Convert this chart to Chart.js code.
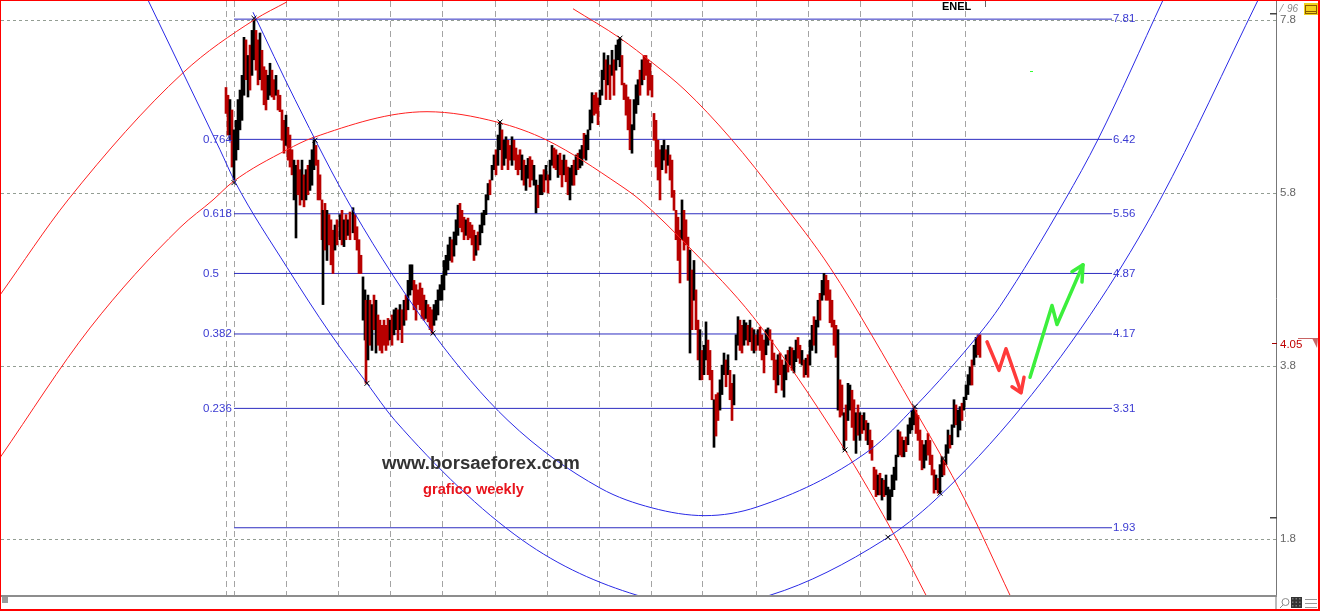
<!DOCTYPE html>
<html><head><meta charset="utf-8">
<script src="https://cdn.jsdelivr.net/npm/chart.js@4.4.1/dist/chart.umd.min.js"></script>
<style>html,body{margin:0;padding:0;background:#fff;overflow:hidden}#wrap{width:1320px;height:611px;position:relative}canvas{display:block}</style>
</head><body><div id="wrap"><canvas id="c" width="1320" height="611"></canvas></div>
<script>
// ---- weekly bars: week index, high, low, direction (1 = up/black, 0 = down/red)
const barWeeks = [
0,2,4,6,8,10,12,14,16,18,
20,22,24,26,28,30,32,34,36,38,
40,42,44,46,48,50,52,54,56,58,
60,62,64,66,68,70,72,74,76,78,
80,82,84,86,88,90,92,94,96,97,
99,101,103,105,107,109,111,114,116,118,
120,122,124,127,129,131,133,135,137,139,
140,142,144,146,148,150,152,154,156,158,
160,162,164,166,168,170,172,174,176,178,
180,182,184,186,188,190,192,194,196,198,
200,202,204,206,208,210,212,214,216,218,
220,222,224,226,228,230,232,234,236,238,
240,242,244,246,248,250,252,254,256,258,
260,262,264,266,268,270,272,274,276,278,
280,282,284,286,288,290,292,294,296,298,
300,302,304,306,308,310,312,314,316,318,
320,322,324,326,328,330,332,334,336,338,
340,342,344,346,348,350,352,354,356,358,
360,362,364,366,368,370,372,374,376,378,
380,382,384,386,388,390,392,394,396,398,
400,402,404,406,408,410,412,414,416,418,
420,422,424,426,428,430,432,434,436,438,
440,442,444,446,448,450,452,454,456,458,
460,462,464,466,468,470,472,474,476,478,
480,482,484,486,488,490,492,494,496,498,
500,502,504,506,508,510,512,514,516,518,
520,522,524,526,528,530,532,534,536,538,
540,542,544,546,548,550,552,554,556,558,
560,562,564,566,568,570,572,574,576,578,
580,582,584,586,588,590,592,594,596,598,
600,602,604,606,608,610,612,614,616,618,
620,622,624,626,628,630,632,634,636,638,
640,642,644,646,648,650,652,654,656,658,
660,662,664,666,668,670,672,674,676,678,
680,682,684,686,688,690,692,694,696,698,
700,702,704,706,708,710,712,714,716,718,
720,722,724,726,728,730,732,734,736,738,
740,742,744,746,748,750,752,754];
const barHighs = [
7.02,6.93,6.88,6.76,6.53,6.64,6.88,6.99,7.16,7.60,
7.57,7.39,7.51,7.68,7.80,7.68,7.57,7.65,7.45,7.26,
7.22,7.16,7.30,7.22,7.11,7.16,6.99,6.93,6.76,6.64,
6.70,6.56,6.47,6.30,6.18,6.12,6.18,6.07,6.18,6.01,
6.07,6.12,6.18,6.30,6.41,6.35,6.18,6.01,5.72,5.60,
5.68,5.60,5.55,5.49,5.37,5.43,5.49,5.55,5.60,5.49,
5.55,5.49,5.58,5.63,5.55,5.41,5.26,5.08,4.83,4.68,
4.56,4.62,4.56,4.51,4.62,4.56,4.39,4.33,4.27,4.33,
4.27,4.35,4.33,4.39,4.45,4.47,4.45,4.51,4.45,4.56,
4.62,4.79,4.97,4.97,4.79,4.74,4.68,4.76,4.70,4.62,
4.56,4.51,4.48,4.45,4.51,4.56,4.68,4.74,4.85,5.02,
5.08,5.20,5.29,5.26,5.35,5.49,5.66,5.68,5.60,5.52,
5.49,5.51,5.46,5.43,5.37,5.31,5.35,5.43,5.57,5.60,
5.78,5.91,5.95,6.12,6.24,6.30,6.47,6.62,6.53,6.41,
6.45,6.41,6.35,6.45,6.41,6.32,6.24,6.30,6.24,6.18,
6.12,6.20,6.22,6.18,6.12,5.95,5.89,6.01,6.01,6.07,
6.12,6.01,6.18,6.35,6.32,6.30,6.24,6.26,6.18,6.24,
6.18,6.10,6.09,6.12,6.18,6.24,6.26,6.30,6.35,6.49,
6.47,6.53,6.76,6.96,6.93,6.96,6.90,6.99,7.22,7.42,
7.34,7.39,7.28,7.45,7.34,7.51,7.57,7.59,7.39,7.07,
7.05,6.91,6.88,6.59,6.88,7.05,7.11,7.22,7.34,7.39,
7.39,7.34,7.30,7.16,6.72,6.64,6.41,6.30,6.35,6.41,
6.30,6.35,6.24,6.18,5.83,5.60,5.52,5.37,5.72,5.60,
5.49,5.29,5.14,4.91,5.02,4.68,4.33,4.22,3.98,4.04,
4.31,4.10,3.98,3.75,3.41,3.47,3.49,3.64,3.81,3.95,
3.87,3.93,3.75,3.60,3.70,4.16,4.37,4.33,4.27,4.33,
4.30,4.27,4.33,4.24,4.22,4.16,4.22,4.25,4.16,4.10,
4.22,4.24,4.22,4.10,3.95,3.87,3.93,3.95,3.87,3.81,
3.93,3.98,4.02,4.01,3.98,4.10,4.13,4.04,3.98,3.87,
3.89,3.93,4.10,4.27,4.37,4.33,4.56,4.64,4.79,4.87,
4.85,4.79,4.68,4.56,4.33,4.27,4.22,3.64,3.58,3.26,
3.35,3.60,3.58,3.52,3.41,3.26,3.35,3.26,3.23,3.26,
3.17,3.14,3.06,2.94,2.63,2.60,2.54,2.56,2.50,2.48,
2.54,2.40,2.37,2.54,2.63,2.77,3.06,3.04,2.98,2.94,
2.98,3.12,3.20,3.29,3.33,3.29,3.23,3.06,2.94,2.89,
2.94,3.02,2.94,2.77,2.60,2.54,2.50,2.66,2.75,2.71,
2.89,3.06,3.00,3.12,3.41,3.35,3.29,3.33,3.37,3.44,
3.58,3.70,3.79,3.87,4.04,4.13,4.16,4.16];
const barLows = [
6.72,6.47,6.41,6.10,5.95,6.18,6.30,6.53,6.64,6.93,
7.11,6.91,6.99,7.16,7.34,7.22,7.05,7.11,6.99,6.82,
6.76,6.88,6.93,6.91,6.88,6.93,6.76,6.74,6.41,6.26,
6.35,6.18,6.10,6.01,5.72,5.28,5.78,5.66,5.72,5.64,
5.72,5.78,5.83,5.89,6.07,6.12,5.72,5.72,5.26,4.51,
5.14,5.02,5.20,4.97,4.87,5.14,5.20,5.26,5.20,5.18,
5.26,5.31,5.26,5.34,5.26,5.14,4.87,4.87,4.33,4.10,
3.60,3.87,4.04,3.98,4.22,3.95,4.04,3.98,3.95,4.04,
3.98,4.04,4.10,4.04,4.16,4.22,4.10,4.22,4.07,4.27,
4.33,4.45,4.62,4.68,4.45,4.33,4.51,4.45,4.35,4.33,
4.35,4.31,4.22,4.18,4.27,4.33,4.39,4.56,4.56,4.68,
4.85,4.91,5.02,5.00,5.07,5.20,5.31,5.40,5.35,5.26,
5.31,5.26,5.28,5.20,5.02,5.08,5.14,5.20,5.34,5.43,
5.55,5.72,5.78,5.95,6.07,6.01,6.12,6.30,6.07,6.12,
6.20,6.07,6.18,6.12,6.18,6.07,6.01,6.07,5.95,5.89,
5.83,5.97,5.87,5.95,5.89,5.57,5.63,5.78,5.78,5.81,
5.95,5.80,5.95,6.12,6.09,6.07,5.98,6.01,5.87,6.01,
5.93,5.78,5.72,5.89,5.89,6.01,6.07,6.09,6.12,6.20,
6.18,6.30,6.53,6.61,6.70,6.72,6.59,6.82,6.93,7.11,
6.88,7.05,6.88,7.16,6.93,7.22,7.34,7.26,7.05,6.88,
6.70,6.53,6.30,6.26,6.53,6.72,6.82,6.93,7.05,7.11,
7.16,6.93,6.99,6.91,6.41,6.10,5.95,5.72,6.07,6.18,
6.03,6.12,5.95,5.75,5.60,5.26,5.02,4.76,5.26,5.14,
5.20,4.79,3.95,4.22,4.56,4.22,3.87,3.64,3.64,3.70,
3.87,3.70,3.64,3.41,2.86,2.99,3.17,3.29,3.47,3.70,
3.56,3.70,3.41,3.17,3.35,3.87,4.04,3.98,3.95,4.04,
4.10,4.04,4.08,3.98,3.95,3.98,4.04,3.98,3.87,3.72,
3.93,4.04,4.10,3.87,3.64,3.49,3.58,3.70,3.52,3.44,
3.64,3.73,3.81,3.75,3.72,3.85,3.89,3.83,3.81,3.67,
3.70,3.67,3.81,3.98,4.04,3.95,4.25,4.33,4.56,4.62,
4.56,4.56,4.30,4.25,4.04,3.90,3.29,3.21,3.23,2.83,
2.94,3.17,3.29,3.09,2.94,2.79,3.00,2.94,3.02,3.06,
2.94,2.89,2.79,2.71,2.37,2.29,2.31,2.31,2.25,2.29,
2.31,2.02,2.02,2.29,2.37,2.48,2.75,2.77,2.75,2.75,
2.81,2.89,3.02,3.06,3.12,3.02,2.94,2.71,2.60,2.62,
2.71,2.77,2.66,2.54,2.33,2.37,2.33,2.33,2.52,2.54,
2.66,2.79,2.85,2.89,3.09,3.12,2.98,3.06,3.17,3.29,
3.41,3.47,3.58,3.58,3.81,3.90,3.93,3.90];
const barDirs = [
0,0,1,0,1,1,1,1,1,1, 0,1,0,1,1,0,0,1,0,0, 0,1,1,0,0,1,0,0,0,0, 1,0,0,0,1,1,0,0,1,0,
1,0,1,1,1,0,0,0,0,1, 0,1,0,0,0,1,0,1,0,1, 0,1,0,1,0,0,0,0,1,1, 0,1,0,1,0,1,0,0,0,0,
0,0,1,0,1,1,0,1,0,1, 0,1,1,1,0,0,0,0,0,0, 1,0,0,0,1,1,1,1,1,1, 1,1,1,0,1,1,1,0,0,0,
1,0,0,0,0,1,0,1,1,1, 1,1,0,1,1,0,1,1,0,1, 1,0,0,1,0,0,0,0,1,0, 1,1,0,0,1,1,0,1,1,0,
1,0,1,1,0,0,1,0,0,1, 0,0,1,1,0,1,0,1,1,0, 1,1,1,1,0,0,0,1,1,1, 0,1,0,1,0,1,1,1,0,0,
0,0,0,1,1,1,1,0,1,0, 0,0,0,0,0,0,0,0,1,1, 0,1,0,0,0,0,0,0,1,0, 0,0,1,0,1,0,0,1,0,1,
1,0,0,0,1,0,0,1,1,1, 0,1,0,0,1,1,1,0,0,1, 1,0,1,0,1,0,1,0,0,0, 1,1,0,0,0,0,1,0,0,1,
1,0,1,0,1,1,0,0,1,0, 1,0,1,1,0,1,1,0,1,1, 0,0,0,0,0,0,1,0,0,1, 0,1,1,0,0,1,0,1,0,1,
0,1,0,0,0,0,1,0,1,0, 1,1,1,1,1,1,1,0,0,1, 0,1,1,1,1,0,0,0,0,1, 1,0,0,0,0,1,0,1,1,0,
1,1,0,1,1,0,1,1,0,1, 1,1,1,0,1,1,0,0];
const lastClose = 4.05;

// ---- axes
const priceTicks = [1.8, 3.8, 4.05, 5.8, 7.8];
const yearWeeks = [0, 8, 60, 112, 164, 216, 269, 321, 373, 425, 477, 530, 582, 634, 686, 739];

// ---- Fibonacci retracement
const fibLevels = [7.81, 6.42, 5.56, 4.87, 4.17, 3.31, 1.93];
const fibPriceLabels = ['7.81', '6.42', '5.56', '4.87', '4.17', '3.31', '1.93'];
const fibRatioLabels = ['', '0.764', '0.618', '0.5', '0.382', '0.236', ''];
const fibStart = 8, fibEnd = 886;

// ---- arcs (week, price)
const blueUpperW = [27, 69, 127, 207, 282, 374, 426, 479, 531, 644, 689, 754, 774, 839, 872, 937];
const blueUpperP = [7.89, 6.88, 5.60, 4.18, 3.17, 2.39, 2.16, 2.07, 2.17, 2.83, 3.33, 4.18, 4.49, 5.72, 6.42, 8.03];
const blueLowerW = [-78, -43, -6, 9, 61, 104, 141, 169, 296, 411, 477, 544, 658, 709, 796, 874, 934, 1032];
const blueLowerP = [8.03, 7.19, 6.30, 5.93, 4.94, 4.18, 3.60, 3.17, 1.79, 1.15, 1.05, 1.15, 1.79, 2.25, 3.33, 4.56, 5.72, 8.03];
const redAW = [-226, -158, -43, 28, 61];
const redAP = [4.62, 5.72, 7.19, 7.80, 8.01];
const redBW = [-226, -136, -46, -13, 7, 61, 87, 201, 271, 321, 394, 414, 466, 527, 614, 671, 700];
const redBP = [2.74, 4.24, 5.40, 5.72, 5.93, 6.30, 6.44, 6.74, 6.62, 6.41, 5.89, 5.72, 5.14, 4.37, 2.92, 1.79, 1.15];
const redCW = [347, 394, 427, 459, 504, 554, 604, 687, 739, 784];
const redCP = [7.93, 7.59, 7.30, 6.99, 6.44, 5.72, 4.94, 3.33, 2.25, 1.15];

// ---- pivot crosses
const pivotW = [8, 28, 89, 141, 207, 274, 394, 619, 662, 689, 714, 717];
const pivotP = [5.92, 7.82, 6.41, 3.60, 4.18, 6.62, 7.59, 2.83, 1.82, 3.33, 2.33, 2.73];

// ---- forecast arrows
const redArrowW = [761, 773, 780, 795];
const redArrowP = [4.08, 3.75, 4.00, 3.50];
const redHeadW = [786, 795, 798];
const redHeadP = [3.56, 3.49, 3.67];
const greenArrowW = [804, 826, 831, 857];
const greenArrowP = [3.67, 4.50, 4.28, 4.97];
const greenHeadW = [846, 857, 856];
const greenHeadP = [4.89, 4.97, 4.77];

const pts = (w, p) => w.map((v, i) => ({x: v, y: p[i]}));
const FONT = '"Liberation Sans", Arial, sans-serif';
Chart.defaults.font.family = FONT;

const lineDs = (data, color, width, extra) => Object.assign({
  type: 'line', data, borderColor: color, borderWidth: width, pointRadius: 0,
  fill: false, cubicInterpolationMode: 'monotone', order: 1
}, extra || {});

const datasets = [];
fibLevels.forEach(lv => datasets.push(lineDs([{x: fibStart, y: lv}, {x: fibEnd, y: lv}], '#2c2cc0', 1, {order: 6, tension: 0})));
datasets.push({
  type: 'bar', order: 4,
  data: barWeeks.map((w, i) => ({x: w, y: [barLows[i], barHighs[i]]})),
  backgroundColor: barDirs.map(d => d ? '#000000' : '#b80000'),
  borderWidth: 0, barThickness: 2, grouped: false
});
datasets.push(lineDs(pts(blueUpperW, blueUpperP), '#2a2ae6', 1));
datasets.push(lineDs(pts(blueLowerW, blueLowerP), '#2a2ae6', 1));
datasets.push(lineDs(pts(redAW, redAP), '#ff2020', 1));
datasets.push(lineDs(pts(redBW, redBP), '#ff2020', 1));
datasets.push(lineDs(pts(redCW, redCP), '#ff2020', 1));
datasets.push({type: 'line', data: pts(pivotW, pivotP), showLine: false, pointStyle: 'crossRot',
  pointRadius: 3.5, borderColor: '#000', borderWidth: 1, order: 0});
const arrowOpts = {tension: 0, cubicInterpolationMode: 'default', borderCapStyle: 'round', borderJoinStyle: 'round', order: 0};
datasets.push(lineDs(pts(redArrowW, redArrowP), '#ff3a3a', 3.5, arrowOpts));
datasets.push(lineDs(pts(redHeadW, redHeadP), '#ff3a3a', 3.5, arrowOpts));
datasets.push(lineDs(pts(greenArrowW, greenArrowP), '#3cef3c', 3.5, arrowOpts));
datasets.push(lineDs(pts(greenHeadW, greenHeadP), '#3cef3c', 3.5, arrowOpts));

function fitText(ctx, text, weight, targetW, baseSize) {
  ctx.font = weight + ' ' + baseSize + 'px ' + FONT;
  const w = ctx.measureText(text).width;
  const s = baseSize * targetW / w;
  ctx.font = weight + ' ' + s.toFixed(2) + 'px ' + FONT;
}

const deco = {
  id: 'deco',
  afterDraw(chart) {
    const {ctx} = chart;
    const xs = chart.scales.x, ys = chart.scales.y;
    ctx.save();
    // Fibonacci labels
    ctx.font = '11.5px ' + FONT;
    ctx.fillStyle = '#3a3ad2';
    ctx.textBaseline = 'middle';
    ctx.textAlign = 'left';
    fibLevels.forEach((lv, i) => {
      const py = ys.getPixelForValue(lv);
      ctx.fillText(fibPriceLabels[i], xs.getPixelForValue(fibEnd) + 1, py);
      if (fibRatioLabels[i]) ctx.fillText(fibRatioLabels[i], xs.getPixelForValue(fibStart) - 31, py);
    });
    // watermark texts
    ctx.textBaseline = 'middle';
    ctx.fillStyle = '#333333';
    fitText(ctx, 'www.borsaeforex.com', 'bold', 198, 18);
    ctx.fillText('www.borsaeforex.com', 382, 463.5);
    ctx.fillStyle = '#e8141c';
    fitText(ctx, 'grafico weekly', 'bold', 101, 14);
    ctx.fillText('grafico weekly', 423, 489.5);
    // title
    ctx.fillStyle = '#000';
    ctx.font = 'bold 11px ' + FONT;
    ctx.textBaseline = 'alphabetic';
    ctx.fillText('ENEL', 942, 10);
    ctx.fillStyle = '#666';
    ctx.fillRect(985, 1, 1, 6);
    ctx.fillStyle = '#33ff33';
    ctx.fillRect(1030, 71, 3, 1);
    // axis extras
    const ax = chart.chartArea.right;
    ctx.fillStyle = '#777';
    ctx.fillRect(ax - 0.5, chart.chartArea.bottom, 1, 14);
    ctx.fillStyle = '#444';
    ctx.fillRect(ax - 6, 13, 7, 1.5);
    ctx.fillRect(ax - 6, 517, 7, 1.5);
    const cy = Math.round(ys.getPixelForValue(lastClose));
    ctx.fillStyle = '#a00000';
    ctx.fillRect(ax - 4, cy - 1, 5, 1);
    ctx.fillStyle = '#c86464';
    ctx.fillRect(1298, cy - 6, 20, 1);
    ctx.beginPath(); ctx.moveTo(1312, cy - 6); ctx.lineTo(1318, cy - 6); ctx.lineTo(1317, cy + 4); ctx.closePath(); ctx.fill();
    // top-right glyphs
    ctx.fillStyle = '#888';
    ctx.font = '10px ' + FONT;
    ctx.fillText('\u2044', 1281, 12);
    ctx.font = 'italic 10px ' + FONT;
    ctx.fillText('96', 1287, 12);
    ctx.fillStyle = '#f2d21a';
    ctx.fillRect(1304, 3, 14, 12);
    ctx.strokeStyle = '#8a5a00'; ctx.lineWidth = 1;
    ctx.strokeRect(1305.5, 5.5, 11, 8);
    ctx.beginPath(); ctx.moveTo(1306, 11.5); ctx.lineTo(1316, 11.5); ctx.stroke();
    // bottom scroll bar
    ctx.fillStyle = '#8d8d8d';
    ctx.fillRect(0, chart.chartArea.bottom, ax + 1, 2);
    ctx.fillStyle = '#9a9a9a';
    ctx.fillRect(2, 597, 6, 6);
    // bottom-right icons
    ctx.strokeStyle = '#888'; ctx.lineWidth = 1;
    ctx.beginPath(); ctx.arc(1285.5, 602, 3.5, 0, Math.PI * 2); ctx.stroke();
    ctx.beginPath(); ctx.moveTo(1283, 605); ctx.lineTo(1280, 608); ctx.stroke();
    ctx.fillStyle = '#333';
    ctx.fillRect(1291, 597, 11, 11);
    ctx.fillStyle = '#777';
    for (let i = 0; i < 3; i++) for (let j = 0; j < 3; j++) ctx.fillRect(1292 + i * 3.5, 598 + j * 3.5, 1.5, 1.5);
    ctx.fillStyle = '#999';
    [599, 603, 607].forEach(yy => ctx.fillRect(1305, yy, 12, 1));
    // red frame
    ctx.fillStyle = '#ff0000';
    ctx.fillRect(0, 0, 1320, 1);
    ctx.fillRect(0, 0, 1, 611);
    ctx.fillRect(1318, 0, 2, 611);
    ctx.fillRect(0, 609, 1320, 2);
    ctx.restore();
  }
};

new Chart(document.getElementById('c'), {
  type: 'bar',
  data: {datasets},
  plugins: [deco],
  options: {
    responsive: false, animation: false, devicePixelRatio: 1, events: [],
    layout: {autoPadding: false, padding: {left: 1, top: 1, right: 0, bottom: 16}},
    plugins: {legend: {display: false}, tooltip: {enabled: false}, title: {display: false}},
    scales: {
      x: {
        type: 'linear', min: -225, max: 1050, offset: false,
        afterBuildTicks: s => { s.ticks = yearWeeks.map(v => ({value: v})); },
        afterFit: s => { s.height = 0; s.paddingLeft = 0; s.paddingRight = 0; },
        ticks: {display: false},
        grid: {color: '#a4a4a4', lineWidth: 1, drawTicks: false, offset: false},
        border: {display: false, dash: [6, 4]}
      },
      y: {
        type: 'linear', position: 'right', min: 1.1526, max: 8.0197,
        afterBuildTicks: s => { s.ticks = priceTicks.map(v => ({value: v})); },
        afterFit: s => { s.width = 44; s.paddingTop = 0; s.paddingBottom = 0; },
        ticks: {
          padding: 4, font: {size: 11.5},
          color: c => (c.tick && c.tick.value === lastClose) ? '#c00000' : '#666666',
          callback: v => v === lastClose ? lastClose.toFixed(2) : v.toFixed(1)
        },
        grid: {
          drawTicks: false, lineWidth: 1, offset: false,
          color: c => (c.tick && c.tick.value === lastClose) ? 'rgba(0,0,0,0)' : '#939d93'
        },
        border: {display: true, color: '#777777', width: 1, dash: [3, 3]}
      }
    }
  }
});
</script>
</body></html>
